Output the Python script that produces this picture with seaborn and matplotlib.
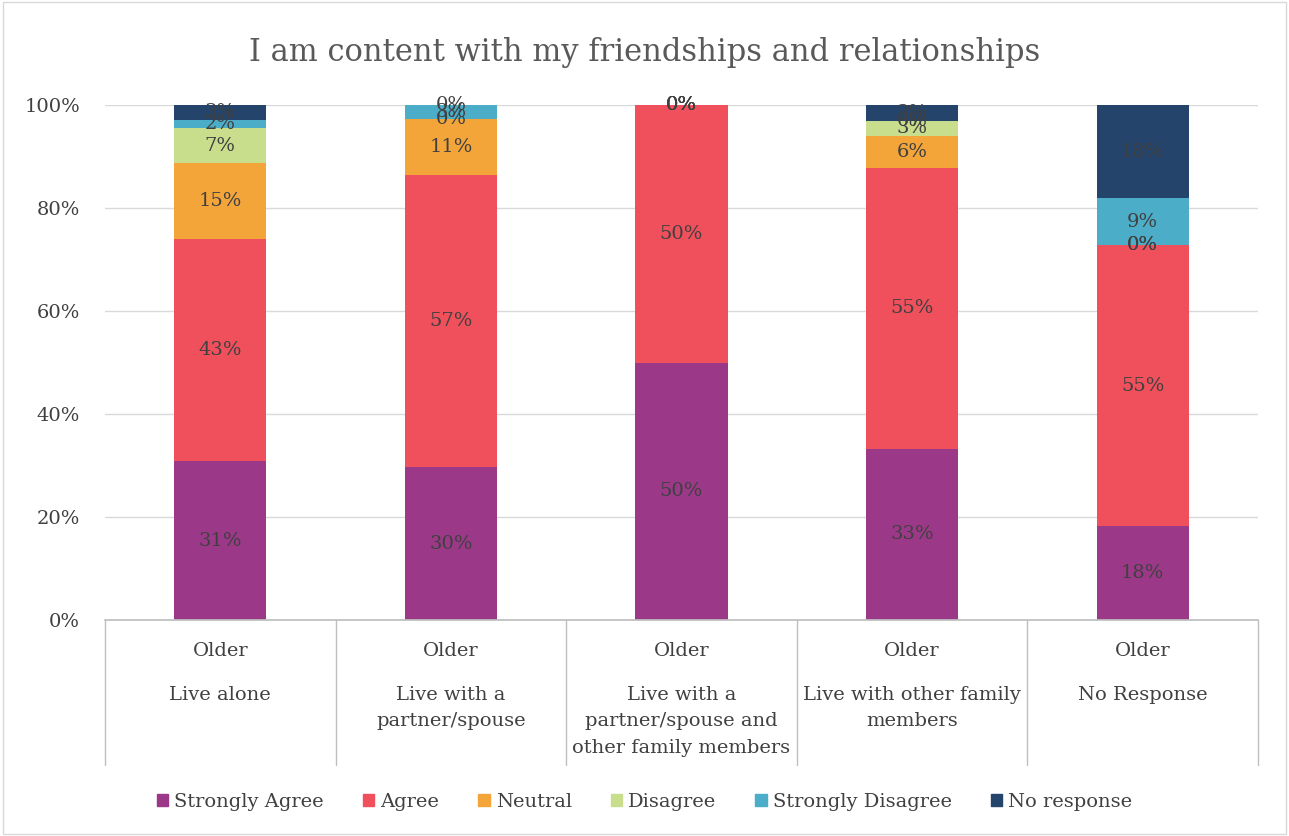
import matplotlib
matplotlib.use("Agg")
import matplotlib.pyplot as plt
import matplotlib.patches as mpatches
import seaborn as sns
import numpy as np
import pandas as pd

categories = ["Live alone", "Live with a\npartner/spouse", "Live with a\npartner/spouse and\nother family members",
              "Live with other family\nmembers", "No Response"]
group_label = "Older"
series_names = ["Strongly Agree", "Agree", "Neutral", "Disagree", "Strongly Disagree", "No response"]
strongly_agree = [30.8, 29.7, 50.0, 33.3, 18.2]
agree = [43.1, 56.8, 50.0, 54.55, 54.55]
neutral = [14.8, 10.8, 0.0, 6.1, 0.0]
disagree = [6.8, 0.0, 0.0, 3.0, 0.0]
strongly_disagree = [1.6, 2.7, 0.0, 0.0, 9.1]
no_response = [3.1, 0.0, 0.0, 3.0, 18.2]
series_values = [strongly_agree, agree, neutral, disagree, strongly_disagree, no_response]
colors = ["#9b3988", "#f0505c", "#f4a53a", "#c8de8c", "#4badc7", "#24446b"]
title = "I am content with my friendships and relationships"

sns.set_theme(style="white")
plt.rcParams["font.family"] = ["DejaVu Serif", "Liberation Serif"]
txt = "#404040"
fs = 14

fig = plt.figure(figsize=(12.89, 8.36), dpi=100)
ax = fig.add_axes([105/1289, 1-620/836, (1258-105)/1289, (620-105)/836])

keys = [f"c{i}" for i in range(len(categories))]
bottom = np.zeros(len(categories))
for name, vals, col in zip(series_names, series_values, colors):
    df = pd.DataFrame({"cat": keys, "val": vals})
    sns.barplot(data=df, x="cat", y="val", order=keys, color=col, width=0.4,
                bottom=bottom.copy(), ax=ax, linewidth=0, edgecolor=col, saturation=1)
    bar_cont = ax.containers[-1]
    ax.bar_label(bar_cont, labels=[f"{v:.0f}%" for v in vals], label_type="center",
                 fontsize=fs, color=txt)
    bottom = bottom + np.array(vals)

ax.set_ylim(0, 100)
ax.set_xlim(-0.5, len(categories) - 0.5)
ax.set_yticks([0, 20, 40, 60, 80, 100])
ax.set_yticklabels([f"{t}%" for t in [0, 20, 40, 60, 80, 100]], fontsize=fs, color=txt)
ax.tick_params(axis="y", length=0, pad=18)
ax.set_xticks([])
ax.set_xlabel("")
ax.set_ylabel("")
for s in ["top", "right", "left"]:
    ax.spines[s].set_visible(False)
ax.spines["bottom"].set_color("#bfbfbf")
ax.yaxis.grid(True, color="#d9d9d9", linewidth=1)
ax.set_axisbelow(True)

# category labels and separators
for i, cat in enumerate(categories):
    ax.text(i, -0.06, group_label, transform=ax.get_xaxis_transform(), ha="center", va="center",
            fontsize=fs, color=txt)
    ax.text(i, -0.128, cat, transform=ax.get_xaxis_transform(), ha="center", va="top",
            fontsize=fs, color=txt, linespacing=1.6)
for b in np.arange(-0.5, len(categories), 1.0):
    ax.plot([b, b], [0, -0.282], transform=ax.get_xaxis_transform(), color="#bfbfbf",
            linewidth=1, clip_on=False)

fig.text(0.5, 1-53/836, title, ha="center", va="center", fontsize=22, color="#595959")

handles = [mpatches.Patch(color=c, label=n) for n, c in zip(series_names, colors)]
fig.legend(handles=handles, loc="center", bbox_to_anchor=(0.5, 1-802/836), ncol=6, frameon=False,
           fontsize=fs, handlelength=0.6, handleheight=0.6, handletextpad=0.3, columnspacing=2.0,
           labelcolor=txt)

fig.patches.append(mpatches.Rectangle((0.002, 0.002), 0.996, 0.996, transform=fig.transFigure,
                                      fill=False, edgecolor="#d9d9d9", linewidth=1))

fig.savefig("out.png", dpi=100)
